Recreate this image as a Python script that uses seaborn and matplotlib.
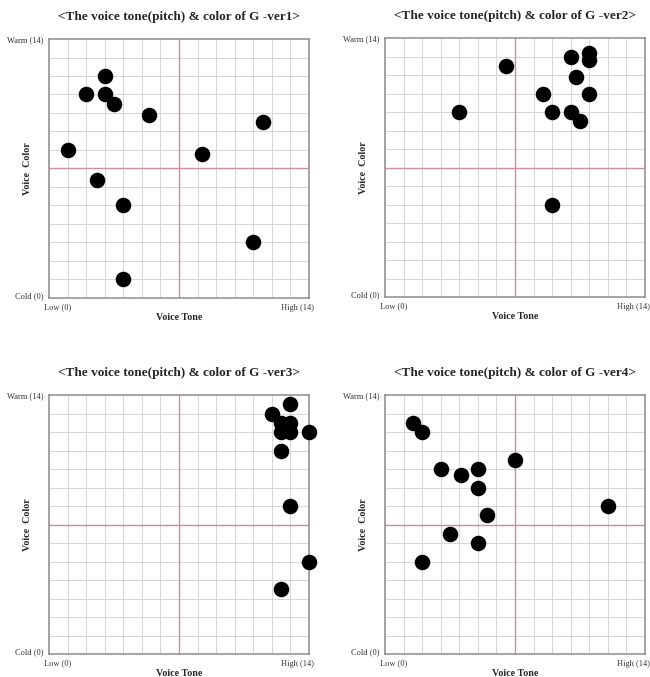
import numpy as np
import pandas as pd
import matplotlib
matplotlib.use("Agg")
import matplotlib.pyplot as plt
import seaborn as sns

# voice tone (x) / voice color (y) for each version
ver1_tone = [3, 2, 3, 3.5, 5.4, 11.5, 1, 8.25, 2.6, 4, 11, 4]
ver1_color = [12, 11, 11, 10.5, 9.9, 9.5, 8, 7.8, 6.4, 5, 3, 1]

ver2_tone = [11, 11, 10, 6.5, 10.3, 8.5, 11, 4, 9, 10, 10.5, 9]
ver2_color = [13.2, 12.8, 13, 12.5, 11.9, 11, 11, 10, 10, 10, 9.5, 5]

ver3_tone = [13, 12, 12.5, 13, 12.5, 13, 14, 12.5, 13, 14, 12.5]
ver3_color = [13.5, 13, 12.5, 12.5, 12, 12, 12, 11, 8, 5, 3.5]

ver4_tone = [1.5, 2, 7, 3, 5, 4.1, 5, 12, 5.5, 3.5, 5, 2]
ver4_color = [12.5, 12, 10.5, 10, 10, 9.65, 9, 8, 7.5, 6.5, 6, 5]

versions = ["ver1", "ver2", "ver3", "ver4"]
tones = [ver1_tone, ver2_tone, ver3_tone, ver4_tone]
colors = [ver1_color, ver2_color, ver3_color, ver4_color]

sns.set_style("white")
plt.rcParams['font.family'] = ['Liberation Serif', 'DejaVu Serif']

fig = plt.figure(figsize=(6.5, 6.77), dpi=100)
# top-left corner of each plot box, in pixels
boxes = [(49, 39), (385, 38), (49, 395), (385, 395)]
W, H = 650, 677

for i, ver in enumerate(versions):
    x0, y0 = boxes[i]
    ax = fig.add_axes([x0 / W, 1 - (y0 + 259) / H, 260 / W, 259 / H])
    df = pd.DataFrame({"tone": tones[i], "color": colors[i]})

    ax.set_xlim(0, 14)
    ax.set_ylim(0, 14)
    ax.set_xticks(np.arange(0, 15), minor=True)
    ax.set_yticks(np.arange(0, 15), minor=True)
    ax.grid(which='minor', color='#d6d6d6', lw=0.7)
    ax.grid(which='major', visible=False)
    ax.axvline(7, color='#d48a9a', lw=1.0, zorder=1)
    ax.axhline(7, color='#d48a9a', lw=1.0, zorder=1)

    sns.scatterplot(data=df, x="tone", y="color", ax=ax, s=125, color='black',
                    edgecolor='black', linewidth=0, zorder=3, clip_on=False)

    ax.set_xticks([0.45, 13.4], labels=["Low (0)", "High (14)"])
    ax.set_yticks([0.15, 14], labels=["Cold (0)", "Warm (14)"])
    ax.tick_params(which='both', length=0, labelsize=6, pad=4, labelcolor='#333333')
    ax.set_xlabel("Voice Tone", fontsize=7.2, fontweight='bold')
    ax.set_ylabel("Voice  Color", fontsize=7.2, fontweight='bold')
    ax.xaxis.set_label_coords(0.5, -0.056)
    ax.yaxis.set_label_coords(-0.066, 0.5)
    ax.set_title("<The voice tone(pitch) & color of G -" + ver + ">",
                 fontsize=9.5, fontweight='bold', pad=14)
    for sp in ax.spines.values():
        sp.set_color('#8c8c8c')
        sp.set_linewidth(1.1)

fig.savefig("out.png", dpi=100)
